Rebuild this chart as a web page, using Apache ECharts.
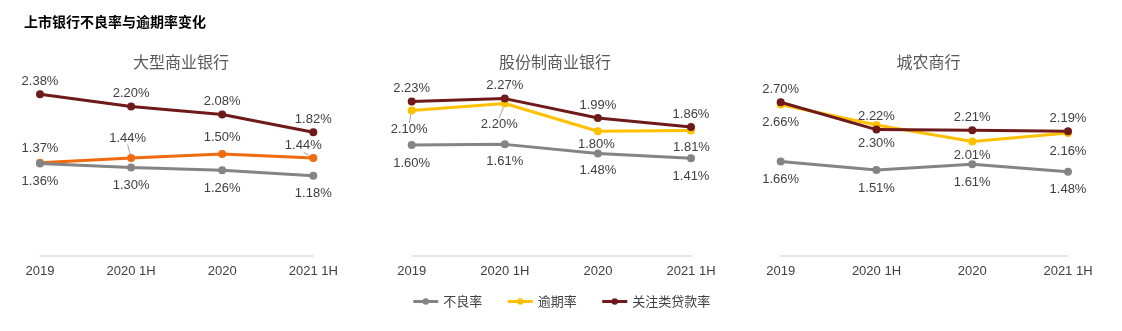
<!DOCTYPE html>
<html>
<head>
<meta charset="utf-8">
<title>上市银行不良率与逾期率变化</title>
<script src="https://cdn.jsdelivr.net/npm/echarts@6/dist/echarts.min.js"></script>
<style>
  html, body { margin: 0; padding: 0; background: #ffffff; }
  #chart { width: 1122px; height: 331px; }
</style>
</head>
<body>
<div id="chart"></div>
<script>
// Periods on the shared x axis
const categories = ['2019', '2020 1H', '2020', '2021 1H'];

// Panel titles
const panelTitles = ['大型商业银行', '股份制商业银行', '城农商行'];

// Series names (legend order)
const seriesNames = ['不良率', '逾期率', '关注类贷款率'];

// 大型商业银行 (%)
const bigNpl = [1.36, 1.30, 1.26, 1.18];
const bigOverdue = [1.37, 1.44, 1.50, 1.44];
const bigSpecial = [2.38, 2.20, 2.08, 1.82];

// 股份制商业银行 (%)
const jointNpl = [1.60, 1.61, 1.48, 1.41];
const jointOverdue = [2.10, 2.20, 1.80, 1.81];
const jointSpecial = [2.23, 2.27, 1.99, 1.86];

// 城农商行 (%)
const cityNpl = [1.66, 1.51, 1.61, 1.48];
const cityOverdue = [2.66, 2.30, 2.01, 2.16];
const citySpecial = [2.70, 2.22, 2.21, 2.19];

const FONT = '"Liberation Sans", Arial, "Noto Sans CJK SC", sans-serif';
const CJK = '"Noto Sans CJK SC", "Liberation Sans", sans-serif';
const TEXT = '#404040';
const GRAY = '#848484';
const YELLOW = '#FFC000';
const ORANGE = '#EE6B10';
const MAROON = '#6E1A1A';

// Panel geometry: grid placement and value range per panel
const panels = [
  { left: 40,    right: 808.7, top: 52, max: 3.0, titleX: 181 },
  { left: 411.7, right: 431,   top: 48, max: 3.0, titleX: 555 },
  { left: 780.7, right: 54,    top: 51, max: 3.6, titleX: 928.5 }
];

// Label nudges for crowded points: key "panel-series-index" -> [dx, dy, guideLine]
const labelNudges = {
  '0-overdue-0': [0, -1.5, false],
  '0-overdue-1': [-3.5, -7, true],
  '0-overdue-2': [0, -3.5, false],
  '0-overdue-3': [-10, 0.5, true],
  '1-overdue-0': [-2.5, 1, true],
  '1-overdue-1': [-5.5, 3, true],
  '1-overdue-2': [-1.5, -5, false],
  '1-overdue-3': [0.5, -1.5, false],
  '2-overdue-2': [0, -4.5, false],
  '0-npl-1': [0, -0.5, false],
  '1-npl-1': [0, -1, false],
  '1-npl-2': [0, -1, false]
};

const fmt = p => p.value.toFixed(2) + '%';

function makeSeries(panel, key, name, values, color, position, z) {
  const data = values.map((v, i) => {
    const n = labelNudges[panel + '-' + key + '-' + i];
    const item = { value: v };
    if (n && n[2]) {
      item.labelLine = { show: true, lineStyle: { color: '#a6a6a6', width: 1 } };
    }
    return item;
  });
  return {
    name: name,
    type: 'line',
    xAxisIndex: panel,
    yAxisIndex: panel,
    data: data,
    z: z,
    symbol: 'circle',
    symbolSize: 8,
    itemStyle: { color: color },
    lineStyle: { color: color, width: 3 },
    label: {
      show: true,
      position: position,
      distance: position === 'top' ? 2.5 : 7.5,
      formatter: fmt,
      color: TEXT,
      fontSize: 13,
      fontFamily: FONT
    },
    labelLayout: function (params) {
      const n = labelNudges[panel + '-' + key + '-' + params.dataIndex];
      if (!n) return {};
      return { dx: n[0], dy: n[1] };
    },
    emphasis: { disabled: true },
    animation: false
  };
}

const series = [
  makeSeries(0, 'overdue', seriesNames[1], bigOverdue, ORANGE, 'top', 2),
  makeSeries(0, 'npl', seriesNames[0], bigNpl, GRAY, 'bottom', 3),
  makeSeries(0, 'special', seriesNames[2], bigSpecial, MAROON, 'top', 4),
  makeSeries(1, 'overdue', seriesNames[1], jointOverdue, YELLOW, 'bottom', 2),
  makeSeries(1, 'npl', seriesNames[0], jointNpl, GRAY, 'bottom', 3),
  makeSeries(1, 'special', seriesNames[2], jointSpecial, MAROON, 'top', 4),
  makeSeries(2, 'overdue', seriesNames[1], cityOverdue, YELLOW, 'bottom', 2),
  makeSeries(2, 'npl', seriesNames[0], cityNpl, GRAY, 'bottom', 3),
  makeSeries(2, 'special', seriesNames[2], citySpecial, MAROON, 'top', 4)
];

const grids = panels.map(p => ({ left: p.left, right: p.right, top: p.top, bottom: 75, containLabel: false }));

const xAxes = panels.map((p, i) => ({
  type: 'category',
  gridIndex: i,
  data: categories,
  boundaryGap: false,
  axisLine: { show: true, lineStyle: { color: '#dedede', width: 1.5 } },
  axisTick: { show: false },
  axisLabel: { color: TEXT, fontSize: 13, fontFamily: FONT, margin: 9 },
  splitLine: { show: false }
}));

const yAxes = panels.map((p, i) => ({
  type: 'value',
  gridIndex: i,
  min: 0,
  max: p.max,
  show: false,
  splitLine: { show: false }
}));

const graphics = [
  {
    type: 'text', x: 24, y: 22,
    style: { text: '上市银行不良率与逾期率变化', fill: '#000000', fontSize: 14, fontWeight: 'bold',
             fontFamily: CJK, align: 'left', verticalAlign: 'middle' }
  }
].concat(panels.map((p, i) => ({
  type: 'text', x: p.titleX, y: 62,
  style: { text: panelTitles[i], fill: '#595959', fontSize: 16, fontFamily: CJK,
           align: 'center', verticalAlign: 'middle' }
})));

const chart = echarts.init(document.getElementById('chart'), null, { renderer: 'canvas' });
chart.setOption({
  backgroundColor: '#ffffff',
  animation: false,
  grid: grids,
  xAxis: xAxes,
  yAxis: yAxes,
  legend: {
    top: 290,
    left: 'center',
    itemWidth: 25,
    itemHeight: 8,
    itemGap: 24,
    textStyle: { color: TEXT, fontSize: 13, fontFamily: CJK },
    data: [
      { name: seriesNames[0], itemStyle: { color: GRAY }, lineStyle: { color: GRAY, width: 3 } },
      { name: seriesNames[1], itemStyle: { color: YELLOW }, lineStyle: { color: YELLOW, width: 3 } },
      { name: seriesNames[2], itemStyle: { color: MAROON }, lineStyle: { color: MAROON, width: 3 } }
    ]
  },
  graphic: graphics,
  series: series
});
</script>
</body>
</html>
